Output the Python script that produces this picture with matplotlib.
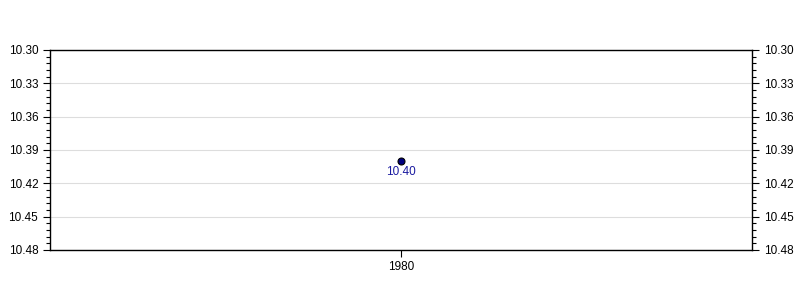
import matplotlib
matplotlib.use("Agg")
import matplotlib.pyplot as plt
from matplotlib.ticker import MultipleLocator, AutoMinorLocator, FormatStrFormatter

plt.rcParams['font.family'] = ['Liberation Sans', 'DejaVu Sans']

years = [1980]
values = [10.40]
labels = ["10.40"]
y_ticks = [10.30, 10.33, 10.36, 10.39, 10.42, 10.45, 10.48]

fig = plt.figure(figsize=(8, 3), dpi=100)
ax = fig.add_axes([0.0625, 0.1667, 0.8775, 0.6667])

ax.plot(years, values, linestyle='none', marker='o', markersize=5,
        markerfacecolor='#000080', markeredgecolor='black', markeredgewidth=0.8, zorder=3)
for x, v, t in zip(years, values, labels):
    ax.annotate(t, (x, v), xytext=(0, -7.5), textcoords='offset points',
                ha='center', va='center', color='#1a1aa0', fontsize=8.5)

ax.set_xlim(1979, 1981)
ax.set_ylim(10.48, 10.30)
ax.set_yticks(y_ticks)
ax.yaxis.set_major_formatter(FormatStrFormatter('%.2f'))
ax.yaxis.set_minor_locator(AutoMinorLocator(5))
ax.set_xticks(years)
ax.set_xticklabels([str(y) for y in years])

ax.grid(axis='y', which='major', color='#dddddd', linewidth=0.8)
ax.set_axisbelow(True)

ax.tick_params(axis='y', which='both', left=True, right=True, labelleft=True, labelright=True,
               direction='out', labelsize=8.5, colors='black')
ax.tick_params(axis='y', which='major', length=5, width=0.8)
ax.tick_params(axis='y', which='minor', length=3, width=0.8)
ax.tick_params(axis='x', which='major', length=5, width=0.8, labelsize=8.5, pad=3)
for s in ax.spines.values():
    s.set_color('black')
    s.set_linewidth(1.0)

fig.savefig('out.png', dpi=100)
